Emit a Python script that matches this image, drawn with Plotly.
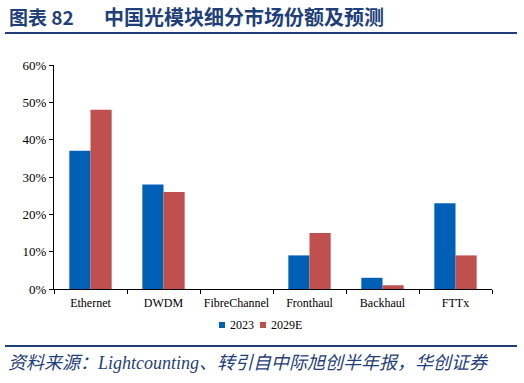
import plotly.graph_objects as go

categories = ["Ethernet", "DWDM", "FibreChannel", "Fronthaul", "Backhaul", "FTTx"]
share_2023 = [0.37, 0.28, 0.0, 0.09, 0.03, 0.23]
share_2029e = [0.48, 0.26, 0.0, 0.15, 0.01, 0.09]
series_names = ["2023", "2029E"]
series_colors = ["#0060B6", "#C0504D"]
y_ticks = [0, 0.1, 0.2, 0.3, 0.4, 0.5, 0.6]

title_label = "图表 82"
title_text = "中国光模块细分市场份额及预测"
source_text = "资料来源：Lightcounting、转引自中际旭创半年报，华创证券"

L, R, T, B = 54, 32, 65, 94
W, H = 524, 383
pw, ph = W - L - R, H - T - B

def px(x):
    return (x - L) / pw

def py(y):
    return (H - B - y) / ph

fig = go.Figure()
fig.add_bar(x=categories, y=share_2023, name=series_names[0], marker_color=series_colors[0],
            marker_line_width=0)
fig.add_bar(x=categories, y=share_2029e, name=series_names[1], marker_color=series_colors[1],
            marker_line_width=0)

fig.update_layout(
    width=W, height=H,
    margin=dict(l=L, r=R, t=T, b=B, autoexpand=False),
    paper_bgcolor="white", plot_bgcolor="white",
    barmode="group", bargap=0.42, bargroupgap=0,
    font=dict(family="Liberation Serif", size=12, color="black"),
    showlegend=False,
    xaxis=dict(showline=True, linecolor="black", linewidth=1, ticks="outside",
               tickson="boundaries", ticklen=4, tickcolor="black", showgrid=False,
               tickangle=0, tickfont=dict(size=12), ticklabelstandoff=3),
    yaxis=dict(range=[0, 0.6], tickvals=y_ticks, tickformat=".0%", showline=True,
               linecolor="black", linewidth=1, ticks="outside", ticklen=4,
               tickcolor="black", showgrid=False, zeroline=False, tickfont=dict(size=13)),
)

fig.add_shape(type="line", xref="paper", yref="paper", x0=px(5), x1=px(517),
              y0=py(33), y1=py(33), line=dict(color="#1F3F7A", width=2))
fig.add_shape(type="line", xref="paper", yref="paper", x0=px(5), x1=px(517),
              y0=py(346), y1=py(346), line=dict(color="#1F3F7A", width=2))

# legend (compact, as in the reference)
legend_pos = [(219, 228), (260, 269)]
for name, color, (sx, tx) in zip(series_names, series_colors, legend_pos):
    fig.add_shape(type="rect", xref="paper", yref="paper", x0=px(sx), x1=px(sx + 6),
                  y0=py(322), y1=py(328), fillcolor=color, line_width=0)
    fig.add_annotation(text=name, xref="paper", yref="paper", x=px(tx), y=py(325),
                       xanchor="left", yanchor="middle", showarrow=False,
                       font=dict(size=12, color="black"))

fig.add_annotation(text="<b>" + title_label + "</b>", xref="paper", yref="paper",
                   x=px(7), y=py(16), xanchor="left", yanchor="middle", showarrow=False,
                   font=dict(family="Noto Sans CJK SC", size=19, color="#1F3F7A"))
fig.add_annotation(text="<b>" + title_text + "</b>", xref="paper", yref="paper",
                   x=px(102), y=py(16), xanchor="left", yanchor="middle", showarrow=False,
                   font=dict(family="Noto Sans CJK SC", size=20, color="#1F3F7A"))
fig.add_annotation(text="<i>" + source_text + "</i>", xref="paper", yref="paper",
                   x=px(6), y=py(363), xanchor="left", yanchor="middle", showarrow=False,
                   font=dict(family="Liberation Serif, Noto Sans CJK SC", size=18,
                             color="#1F3F7A"))

fig.write_html("out.html", config={"displayModeBar": False},
               post_script="document.body.style.margin='0';document.body.style.overflow='hidden';")
